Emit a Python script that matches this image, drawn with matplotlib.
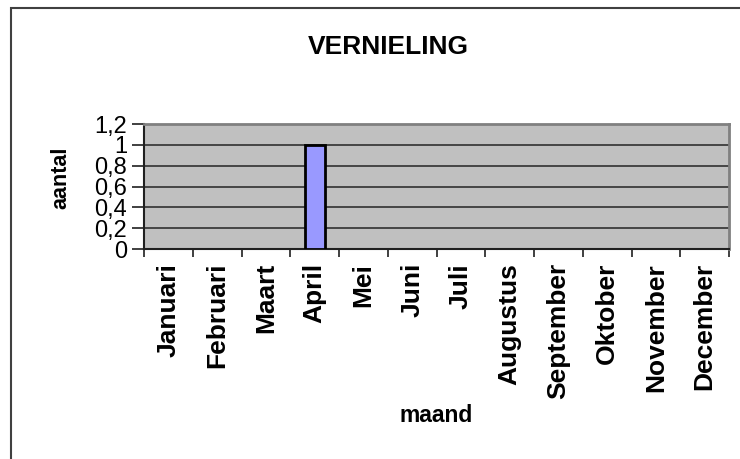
import matplotlib
matplotlib.use("Agg")
import matplotlib.pyplot as plt
from matplotlib.patches import Rectangle
from matplotlib.ticker import FixedLocator, FuncFormatter

months = ["Januari", "Februari", "Maart", "April", "Mei", "Juni", "Juli",
          "Augustus", "September", "Oktober", "November", "December"]
values = [0, 0, 0, 1, 0, 0, 0, 0, 0, 0, 0, 0]
yticks = [0, 0.2, 0.4, 0.6, 0.8, 1.0, 1.2]
title = "VERNIELING"
xlabel = "maand"
ylabel = "aantal"

plt.rcParams['font.family'] = ['Liberation Sans', 'DejaVu Sans']

fig = plt.figure(figsize=(7.4, 4.59), dpi=100)
W, H = 740, 459
# outer chart frame
fig.patches.append(Rectangle((11 / W, -0.1), 1.2, 1 - 8 / H + 0.1,
                             transform=fig.transFigure, fill=False,
                             edgecolor='#404040', linewidth=1.5))

ax = fig.add_axes([144 / W, 1 - 249 / H, (729 - 144) / W, (249 - 124) / H])
ax.set_facecolor('#c0c0c0')
x = list(range(len(months)))
edges = ['black' if v != 0 else 'none' for v in values]
ax.bar(x, values, width=0.41, color='#9999ff', edgecolor=edges,
       linewidth=2, zorder=3)
ax.set_xlim(-0.5, len(months) - 0.5)
ax.set_ylim(0, 1.2)
ax.set_yticks(yticks)
ax.yaxis.set_major_formatter(FuncFormatter(lambda v, p: ('%g' % round(v, 1)).replace('.', ',')))
ax.grid(axis='y', color='#303030', linewidth=1.2, zorder=1)
ax.set_axisbelow(True)

ax.set_xticks(x)
ax.set_xticklabels(months, rotation=90, fontweight='bold', fontsize=19)
ax.tick_params(axis='x', which='major', length=0, pad=10)
ax.xaxis.set_minor_locator(FixedLocator([i - 0.5 for i in range(len(months) + 1)]))
ax.tick_params(axis='x', which='minor', length=6, width=1.2, color='#202020')
ax.tick_params(axis='y', length=9, width=1.2, color='#202020', labelsize=17, pad=3)

for s in ['top', 'right']:
    ax.spines[s].set_color('#808080')
    ax.spines[s].set_linewidth(2)
for s in ['left', 'bottom']:
    ax.spines[s].set_color('#202020')
    ax.spines[s].set_linewidth(1.5)

fig.text(388 / W, 1 - 47 / H, title, ha='center', va='center',
         fontweight='bold', fontsize=19)
fig.text(436 / W, 1 - 415 / H, xlabel, ha='center', va='center',
         fontweight='bold', fontsize=16.5)
fig.text(61 / W, 1 - 178 / H, ylabel, ha='center', va='center',
         fontweight='bold', fontsize=15.5, rotation=90)

fig.savefig("out.png", dpi=100)
